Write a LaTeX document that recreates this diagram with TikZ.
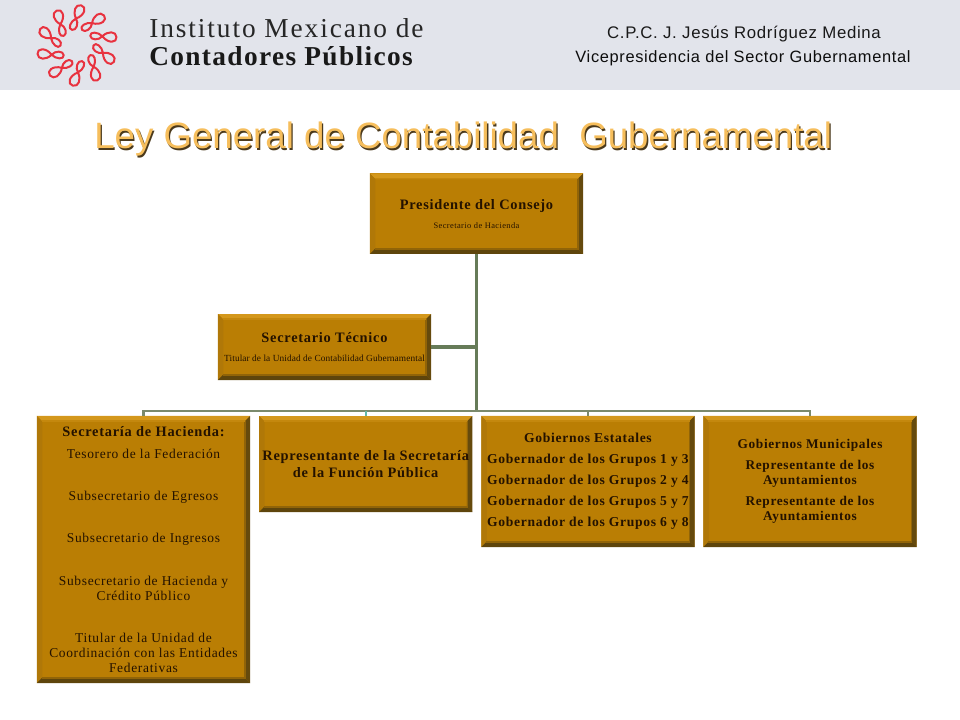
\documentclass[tikz,border=0pt]{standalone}
\usepackage{fontspec}
\setmainfont{Liberation Serif}
\newfontfamily\headfont[LetterSpace=4]{Liberation Sans}
\newfontfamily\titlefont{Liberation Sans}
\newfontfamily\boxfont[LetterSpace=5]{Liberation Serif}
\definecolor{bandgray}{HTML}{E2E4EB}
\definecolor{boxfill}{HTML}{BA7E04}
\definecolor{boxtop}{HTML}{D4981C}
\definecolor{boxleft}{HTML}{B07808}
\definecolor{boxright}{HTML}{654A0D}
\definecolor{boxbottom}{HTML}{5E450C}
\definecolor{boxink}{HTML}{241200}
\definecolor{trunkgreen}{HTML}{667B58}
\definecolor{busgreen}{HTML}{7B8A6C}
\definecolor{dropteal}{HTML}{62B8A6}
\definecolor{logored}{HTML}{E8323F}
\definecolor{titlegold}{HTML}{F6BE5C}
\newcommand{\ppbb}{path picture bounding box}
\tikzset{
  bevelbox/.style={minimum width=160pt, inner sep=0pt, align=center, text=boxink, font=\boxfont\fontsize{10.1}{11.2}\selectfont,
    path picture={
      \fill[boxfill] (\ppbb.south west) rectangle (\ppbb.north east);
      \fill[boxtop] (\ppbb.north west) -- (\ppbb.north east) -- ([shift={(-4.2pt,-4.2pt)}]\ppbb.north east) -- ([shift={(4.2pt,-4.2pt)}]\ppbb.north west) -- cycle;
      \fill[boxleft] (\ppbb.north west) -- (\ppbb.south west) -- ([shift={(4.2pt,4.2pt)}]\ppbb.south west) -- ([shift={(4.2pt,-4.2pt)}]\ppbb.north west) -- cycle;
      \fill[boxright] (\ppbb.north east) -- (\ppbb.south east) -- ([shift={(-4.2pt,4.2pt)}]\ppbb.south east) -- ([shift={(-4.2pt,-4.2pt)}]\ppbb.north east) -- cycle;
      \fill[boxbottom] (\ppbb.south west) -- (\ppbb.south east) -- ([shift={(-4.2pt,4.2pt)}]\ppbb.south east) -- ([shift={(4.2pt,4.2pt)}]\ppbb.south west) -- cycle;
      \draw[boxfill!55!boxbottom, line width=1pt] ([shift={(3.8pt,3.8pt)}]\ppbb.south west) -- ([shift={(-3.8pt,3.8pt)}]\ppbb.south east) -- ([shift={(-3.8pt,-3.8pt)}]\ppbb.north east);
      \draw[boxfill!60!boxtop, line width=1pt] ([shift={(3.8pt,-3.8pt)}]\ppbb.north west) -- ([shift={(-3.8pt,-3.8pt)}]\ppbb.north east);
    }},
  trunkline/.style={line width=2.3pt, trunkgreen},
  busline/.style={line width=1.8pt, busgreen},
  lobeline/.style={line width=1.5pt, logored, line join=round},
}
\newcommand{\boxhead}[1]{{\fontsize{10.8}{12}\selectfont\bfseries #1}}
\begin{document}
\begin{tikzpicture}[x=0.75pt, y=-0.75pt]

\useasboundingbox (0, 0) rectangle (960, 720);

\fill[bandgray] (0, 0) rectangle (960, 90.5);

\foreach \a in {0, 36, ..., 324} {
  \draw[lobeline, shift={(77, 45.5)}, rotate=\a+2, shift={(0, -27)}, rotate=-15] (0, 0) .. controls (8, -5) and (8, -14) .. (2, -14) .. controls (-4, -14) and (-5, -6) .. (0, 0) .. controls (4, 4) and (3, 12) .. (-1.5, 12) .. controls (-6, 12) and (-5, 4) .. (0, 0);
}

\node[anchor=base west, inner sep=0pt, text=black!85, font=\fontsize{20.5}{21}\selectfont\addfontfeature{LetterSpace=7}] (instituto) at (149, 38) {Instituto Mexicano de};
\node[anchor=base west, inner sep=0pt, text=black!90, font=\fontsize{20.5}{21}\selectfont\bfseries\addfontfeature{LetterSpace=5}] (contadores) at (149, 65.7) {Contadores Públicos};

\node[anchor=base, inner sep=0pt, text=black!90, font=\headfont\fontsize{12.6}{13}\selectfont] (contador) at (744, 39) {C.P.C. J. Jesús Rodríguez Medina};
\node[anchor=base, inner sep=0pt, text=black!95, font=\headfont\fontsize{12.3}{13}\selectfont] (vicepresidencia) at (743, 63) {Vicepresidencia del Sector Gubernamental};

\node[anchor=base west, inner sep=0pt, text=black!70!titlegold, font=\titlefont\fontsize{27.5}{28}\selectfont] (titleshadow) at (95.3, 150.3) {Ley General de Contabilidad\ \ Gubernamental};
\node[anchor=base west, inner sep=0pt, text=titlegold, font=\titlefont\fontsize{27.5}{28}\selectfont] (title) at (94, 149) {Ley General de Contabilidad\ \ Gubernamental};

\node[bevelbox, minimum height=60.4pt] (presidente) at (476.5, 213.7) {\boxhead{Presidente del Consejo}\\[3pt]{\fontsize{6.3}{7}\selectfont Secretario de Hacienda}};

\node[bevelbox, minimum height=49.5pt] (tecnico) at (324.5, 347) {\boxhead{Secretario Técnico}\\[2.5pt]{\fontsize{7}{8}\selectfont\addfontfeature{LetterSpace=1} Titular de la Unidad de Contabilidad Gubernamental}};

\node[bevelbox, minimum height=200.3pt] (hacienda) at (143.5, 549.5) {\boxhead{Secretaría de Hacienda:}\\[5pt]Tesorero de la Federación\\[20.5pt]Subsecretario de Egresos\\[20.5pt]Subsecretario de Ingresos\\[20.5pt]Subsecretario de Hacienda y\\Crédito Público\\[20.5pt]Titular de la Unidad de\\Coordinación con las Entidades\\Federativas};

\node[bevelbox, minimum height=72pt, font=\boxfont\fontsize{10.8}{12.5}\selectfont\bfseries] (funcion) at (365.7, 464) {Representante de la Secretaría\\de la Función Pública};

\node[bevelbox, minimum height=98.3pt, font=\boxfont\fontsize{10.2}{15.7}\selectfont\bfseries] (estatales) at (588, 481.5) {Gobiernos Estatales\\Gobernador de los Grupos 1 y 3\\Gobernador de los Grupos 2 y 4\\Gobernador de los Grupos 5 y 7\\Gobernador de los Grupos 6 y 8};

\node[bevelbox, minimum height=98.3pt, font=\boxfont\fontsize{10}{11.2}\selectfont\bfseries] (municipales) at (810, 481.5) {Gobiernos Municipales\\[4.5pt]Representante de los\\Ayuntamientos\\[4.5pt]Representante de los\\Ayuntamientos};

\coordinate (busjoint) at (presidente.south |- 0, 411);

\draw[trunkline] (presidente.south) -- (busjoint);
\draw[trunkline] (tecnico.east) -- (tecnico.east -| busjoint);

\draw[busline] (hacienda.north) |- (busjoint);
\draw[busline] (municipales.north) |- (busjoint);
\draw[line width=1.8pt, dropteal] (funcion.north) -- (funcion.north |- busjoint);
\draw[busline] (estatales.north) -- (estatales.north |- busjoint);

\end{tikzpicture}
\end{document}
